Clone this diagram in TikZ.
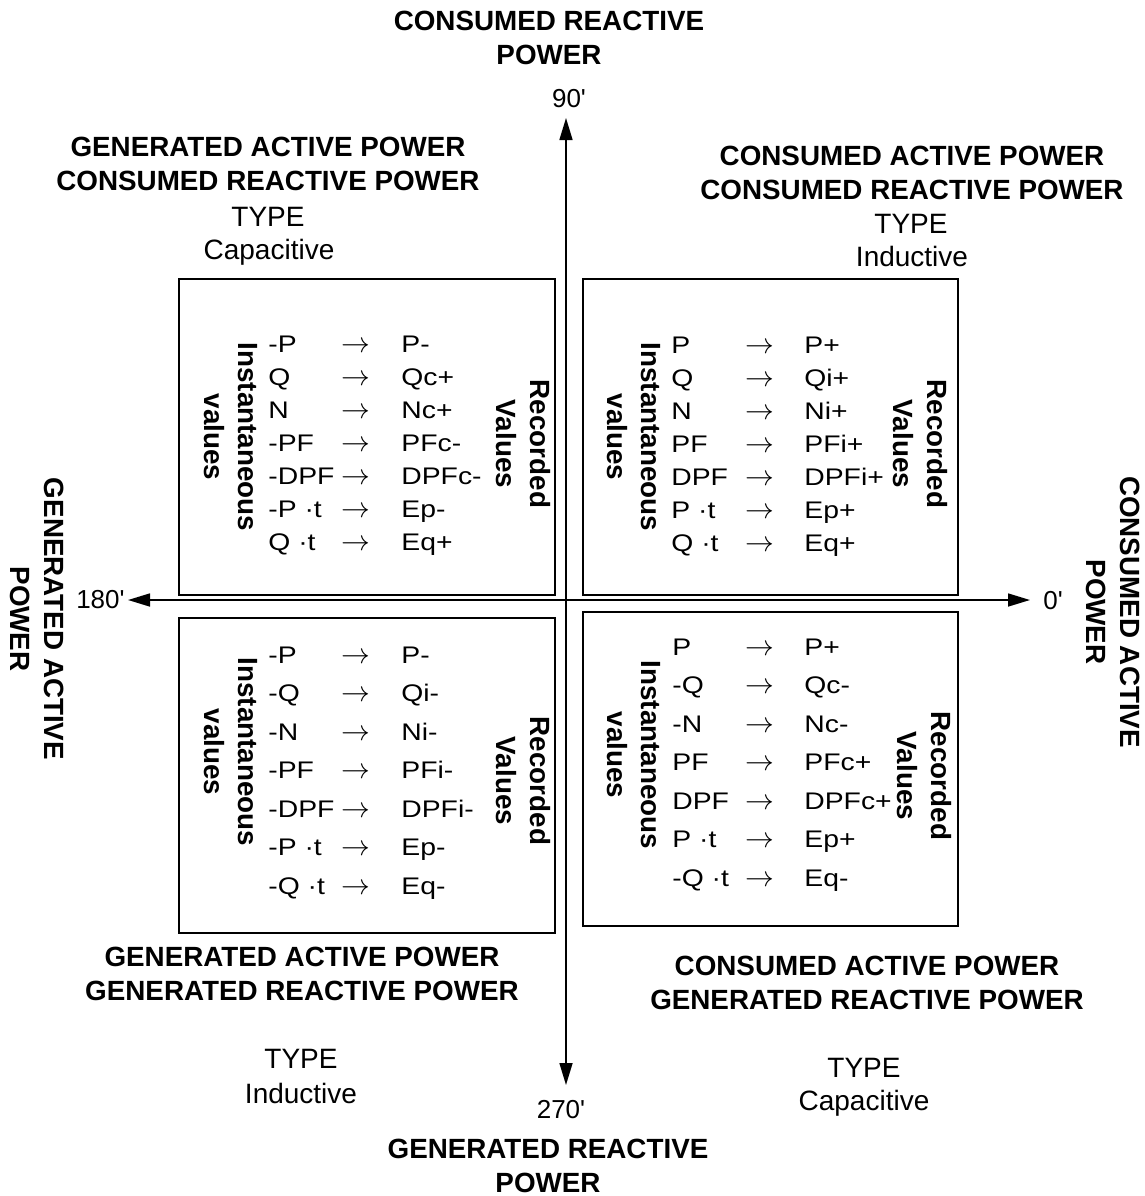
\documentclass[tikz,border=0pt]{standalone}
\usepackage{fontspec}
\setmainfont{Liberation Sans}
\newfontfamily\tabfont[FakeStretch=1.18]{Liberation Sans}
\usetikzlibrary{arrows.meta,calc}
\tikzset{
  quadbox/.style={draw, line width=1pt, inner sep=0pt},
  headtext/.style={font=\bfseries\fontsize{13.9}{17}\selectfont, align=center, inner sep=0pt},
  sidetext/.style={headtext, rotate=-90},
  typetext/.style={font=\fontsize{14}{17}\selectfont, anchor=base, inner sep=0pt},
  rowtext/.style={font=\tabfont\fontsize{12}{14}\selectfont, anchor=base west, inner sep=0pt},
  rowarrow/.style={rowtext, font=\fontsize{13.5}{14}\selectfont},
  anglabel/.style={font=\fontsize{13}{15}\selectfont, inner sep=0pt},
  axline/.style={{Triangle[length=11pt,width=6.5pt]}-{Triangle[length=11pt,width=6.5pt]}, line width=0.8pt},
}

\begin{document}
\begin{tikzpicture}[x=0.5pt, y=-0.5pt]
  \useasboundingbox (0,0) rectangle (1145,1196);
  % axes
  \coordinate (o) at (566,600);
  \coordinate (west) at (128,600);
  \coordinate (east) at (1030,600);
  \coordinate (north) at (566,118);
  \coordinate (south) at (566,1085);
  \draw[axline] (west) -- (east);
  \draw[axline] (south) -- (north);
  \node[anglabel, anchor=base] (a90) at (569,107) {90\textquotesingle};
  \node[anglabel, anchor=base] (a270) at (561,1118) {270\textquotesingle};
  \node[anglabel, anchor=base east] (a180) at (125,608) {180\textquotesingle};
  \node[anglabel, anchor=base west] (a0) at (1043,609) {0\textquotesingle};
  % axis titles
  \node[headtext] (ttop) at (549,38) {CONSUMED REACTIVE\\POWER};
  \node[headtext] (tbottom) at (548,1166) {GENERATED REACTIVE\\POWER};
  \node[sidetext] (tleft) at (37.5,619) {GENERATED ACTIVE\\POWER};
  \node[sidetext] (tright) at (1113.5,612) {CONSUMED ACTIVE\\POWER};
  % quadrant titles
  \node[headtext] (htl) at (268,164) {GENERATED ACTIVE POWER\\CONSUMED REACTIVE POWER};
  \node[typetext] (ttl) at (268,226) {TYPE};
  \node[typetext] (ktl) at (269,259) {Capacitive};
  \node[headtext] (htr) at (912,172.5) {CONSUMED ACTIVE POWER\\CONSUMED REACTIVE POWER};
  \node[typetext] (ttr) at (911,233) {TYPE};
  \node[typetext] (ktr) at (912,266) {Inductive};
  \node[headtext] (hbl) at (302,974) {GENERATED ACTIVE POWER\\GENERATED REACTIVE POWER};
  \node[typetext] (tbl) at (301,1068) {TYPE};
  \node[typetext] (kbl) at (301,1103) {Inductive};
  \node[headtext] (hbr) at (867,982.5) {CONSUMED ACTIVE POWER\\GENERATED REACTIVE POWER};
  \node[typetext] (tbr) at (864,1077) {TYPE};
  \node[typetext] (kbr) at (864,1110) {Capacitive};
  % upper left
  \begin{scope}[shift={(179,279)}]
    \node[quadbox, minimum width=188pt, minimum height=158pt] (tlbox) at (188,158) {};
    \foreach \a/\b [count=\i from 0] in {-P/P-, Q/Qc+, N/Nc+, -PF/PFc-, -DPF/DPFc-, -P ·t/Ep-, Q ·t/Eq+} {
      \node[rowtext] (tl-a\i) at (89,73+33*\i) {\a};
      \node[rowarrow] (tl-r\i) at (162,73+33*\i) {$\rightarrow$};
      \node[rowtext] (tl-b\i) at (222,73+33*\i) {\b};
    }
    \node[sidetext] (tl-inst) at (51.5,158) {Instantaneous\\values};
    \node[sidetext] (tl-rec) at (344,165) {Recorded\\Values};
  \end{scope}
  % upper right
  \begin{scope}[shift={(583,279)}]
    \node[quadbox, minimum width=187.5pt, minimum height=158pt] (trbox) at (187.5,158) {};
    \foreach \a/\b [count=\i from 0] in {P/P+, Q/Qi+, N/Ni+, PF/PFi+, DPF/DPFi+, P ·t/Ep+, Q ·t/Eq+} {
      \node[rowtext] (tr-a\i) at (88,74+33*\i) {\a};
      \node[rowarrow] (tr-r\i) at (162,74+33*\i) {$\rightarrow$};
      \node[rowtext] (tr-b\i) at (221,74+33*\i) {\b};
    }
    \node[sidetext] (tr-inst) at (51,158) {Instantaneous\\values};
    \node[sidetext] (tr-rec) at (337,165) {Recorded\\Values};
  \end{scope}
  % lower left
  \begin{scope}[shift={(179,618)}]
    \node[quadbox, minimum width=188pt, minimum height=157.5pt] (blbox) at (188,157.5) {};
    \foreach \a/\b [count=\i from 0] in {-P/P-, -Q/Qi-, -N/Ni-, -PF/PFi-, -DPF/DPFi-, -P ·t/Ep-, -Q ·t/Eq-} {
      \node[rowtext] (bl-a\i) at (89,45+38.5*\i) {\a};
      \node[rowarrow] (bl-r\i) at (162,45+38.5*\i) {$\rightarrow$};
      \node[rowtext] (bl-b\i) at (222,45+38.5*\i) {\b};
    }
    \node[sidetext] (bl-inst) at (51.5,134) {Instantaneous\\values};
    \node[sidetext] (bl-rec) at (344,163) {Recorded\\Values};
  \end{scope}
  % lower right
  \begin{scope}[shift={(583,612)}]
    \node[quadbox, minimum width=187.5pt, minimum height=157pt] (brbox) at (187.5,157) {};
    \foreach \a/\b [count=\i from 0] in {P/P+, -Q/Qc-, -N/Nc-, PF/PFc+, DPF/DPFc+, P ·t/Ep+, -Q ·t/Eq-} {
      \node[rowtext] (br-a\i) at (89,43+38.5*\i) {\a};
      \node[rowarrow] (br-r\i) at (162,43+38.5*\i) {$\rightarrow$};
      \node[rowtext] (br-b\i) at (221,43+38.5*\i) {\b};
    }
    \node[sidetext] (br-inst) at (51,143) {Instantaneous\\values};
    \node[sidetext] (br-rec) at (341,164) {Recorded\\Values};
  \end{scope}
\end{tikzpicture}
\end{document}
